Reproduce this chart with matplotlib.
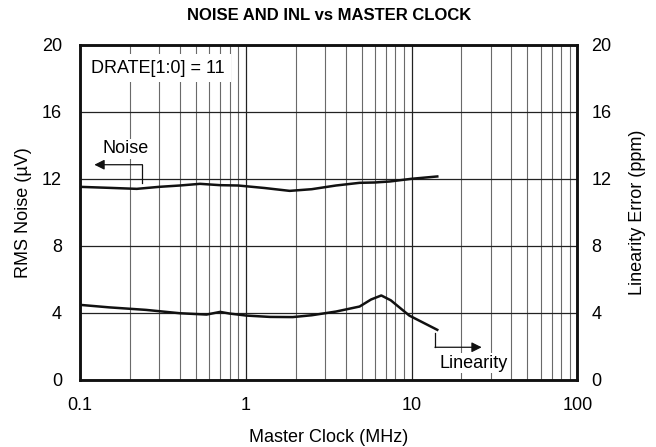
import numpy as np
import matplotlib.pyplot as plt
from matplotlib.ticker import LogLocator, NullFormatter

plt.rcParams['font.family'] = ['Liberation Sans', 'DejaVu Sans']

# master clock (MHz) and measured curves
clock_noise = [0.1, 0.15, 0.22, 0.3, 0.4, 0.53, 0.7, 0.9, 1.3, 1.84, 2.5, 3.5, 4.86, 6.0, 7.4, 10.0, 14.3]
noise_uv = [11.52, 11.46, 11.4, 11.52, 11.6, 11.7, 11.62, 11.6, 11.45, 11.28, 11.38, 11.6, 11.76, 11.78, 11.84, 12.0, 12.14]

clock_lin = [0.1, 0.15, 0.25, 0.4, 0.58, 0.7, 0.8, 1.01, 1.4, 1.92, 2.5, 3.5, 4.86, 5.7, 6.57, 7.5, 9.7, 14.3]
linearity_ppm = [4.48, 4.33, 4.18, 3.98, 3.9, 4.06, 3.96, 3.84, 3.76, 3.75, 3.86, 4.08, 4.38, 4.8, 5.04, 4.75, 3.84, 2.99]

yticks = [0, 4, 8, 12, 16, 20]
xticks = [0.1, 1, 10, 100]
xtick_labels = ['0.1', '1', '10', '100']

FS = 13

fig, ax = plt.subplots(figsize=(6.56, 4.47), dpi=100)
fig.subplots_adjust(left=0.122, right=0.88, top=0.9, bottom=0.15)

ax.set_xscale('log')
ax.set_xlim(0.1, 100)
ax.set_ylim(0, 20)

# grid: decades and 4-unit steps dark, sub-decades lighter
ax.xaxis.set_minor_locator(LogLocator(base=10, subs=np.arange(2, 10)))
ax.xaxis.set_minor_formatter(NullFormatter())
ax.grid(True, which='major', color='#222222', lw=0.9)
ax.grid(True, which='minor', axis='x', color='#6a6a6a', lw=0.8)
ax.set_axisbelow(True)

ax.plot(clock_noise, noise_uv, color='#111111', lw=1.8, zorder=3)
ax.plot(clock_lin, linearity_ppm, color='#111111', lw=1.8, zorder=3)

ax.set_xticks(xticks)
ax.set_xticklabels(xtick_labels)
ax.set_yticks(yticks)
ax.tick_params(axis='x', which='both', length=0, labelsize=FS, pad=12)
ax.tick_params(axis='y', which='both', length=0, labelsize=FS, pad=13)

for s in ax.spines.values():
    s.set_linewidth(1.8)
    s.set_color('#111111')

ax.set_xlabel('Master Clock (MHz)', fontsize=FS, labelpad=11)
ax.set_ylabel('RMS Noise (\u00b5V)', fontsize=FS, labelpad=7)
ax.set_title('NOISE AND INL vs MASTER CLOCK', fontsize=12, fontweight='bold', pad=18)

ax2 = ax.twinx()
ax2.set_ylim(0, 20)
ax2.set_yticks(yticks)
ax2.tick_params(length=0, labelsize=FS, pad=10)
ax2.set_ylabel('Linearity Error (ppm)', fontsize=FS, labelpad=13)
for s in ax2.spines.values():
    s.set_linewidth(1.8)
    s.set_color('#111111')

# annotation boxes and pointer arrows
ax.text(0.117, 18.6, 'DRATE[1:0] = 11', fontsize=FS, va='center', ha='left',
        bbox=dict(facecolor='white', edgecolor='none', pad=4), zorder=4)
ax.text(0.188, 13.8, 'Noise', fontsize=FS, ha='center', va='center',
        bbox=dict(facecolor='white', edgecolor='none', pad=1), zorder=4)
ax.plot([0.237, 0.237], [11.74, 12.84], color='#111111', lw=0.9, zorder=4)
ax.annotate('', xy=(0.122, 12.84), xytext=(0.238, 12.84),
            arrowprops=dict(arrowstyle='-|>', color='#111111', lw=0.9,
                            mutation_scale=15, shrinkA=0, shrinkB=0), zorder=4)

ax.text(23.7, 1.0, 'Linearity', fontsize=FS, ha='center', va='center',
        bbox=dict(facecolor='white', edgecolor='none', pad=1), zorder=4)
ax.plot([13.9, 13.9], [2.8, 1.95], color='#111111', lw=0.9, zorder=4)
ax.annotate('', xy=(26.5, 1.95), xytext=(13.85, 1.95),
            arrowprops=dict(arrowstyle='-|>', color='#111111', lw=0.9,
                            mutation_scale=15, shrinkA=0, shrinkB=0), zorder=4)

fig.savefig('out.png', dpi=100)
